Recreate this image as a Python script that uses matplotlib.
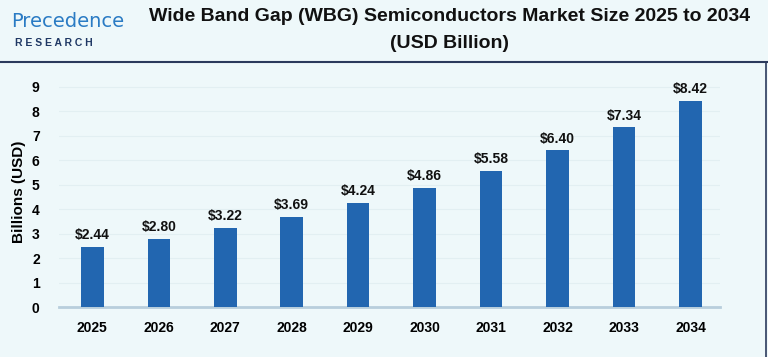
import numpy as np
import matplotlib.pyplot as plt
from matplotlib.lines import Line2D

plt.rcParams['font.family'] = ['Liberation Sans', 'DejaVu Sans']

# data
years = ['2025', '2026', '2027', '2028', '2029', '2030', '2031', '2032', '2033', '2034']
values = [2.44, 2.80, 3.22, 3.69, 4.24, 4.86, 5.58, 6.40, 7.34, 8.42]
yticks = [0, 1, 2, 3, 4, 5, 6, 7, 8, 9]

bg = '#EEF8FA'
bar_color = '#2266B0'

fig = plt.figure(figsize=(7.68, 3.57), dpi=100, facecolor=bg)
ax = fig.add_axes([0.077, 0.140, 0.861, 0.644], facecolor=bg)

x = np.arange(len(years))
ax.bar(x, values, width=0.34, color=bar_color, zorder=3)
for xi, v in zip(x, values):
    ax.text(xi, v + 0.2, f'${v:.2f}', ha='center', va='bottom',
            fontsize=10, fontweight='bold', color='#111111')

ax.set_xlim(-0.5, 9.45)
ax.set_ylim(0, 9.4)
ax.set_xticks(x)
ax.set_xticklabels(years, fontsize=10, fontweight='bold')
ax.set_yticks(yticks)
ax.set_yticklabels([str(t) for t in yticks], fontsize=10, fontweight='bold')
ax.tick_params(length=0, pad=14, axis='y')
ax.tick_params(length=0, pad=10, axis='x')
ax.grid(axis='y', color='#E2EFF2', linewidth=0.8, zorder=0)
for s in ['top', 'right', 'left']:
    ax.spines[s].set_visible(False)
ax.spines['bottom'].set_color('#B8CEDC')
ax.spines['bottom'].set_linewidth(2)
ax.set_ylabel('Billions (USD)', fontsize=11, fontweight='bold', labelpad=4)

# header
fig.text(0.585, 0.955, 'Wide Band Gap (WBG) Semiconductors Market Size 2025 to 2034',
         ha='center', va='center', fontsize=14, fontweight='bold', color='#111111')
fig.text(0.585, 0.878, '(USD Billion)', ha='center', va='center',
         fontsize=14, fontweight='bold', color='#111111')
fig.text(0.014, 0.94, 'Precedence', ha='left', va='center', fontsize=14,
         color='#2A7BC4', family=['DejaVu Sans'])
fig.text(0.02, 0.88, 'R E S E A R C H', ha='left', va='center', fontsize=7.5,
         fontweight='bold', color='#1F3864')

fig.add_artist(Line2D([0, 1], [1 - 62 / 357, 1 - 62 / 357], color='#2B3A5C', linewidth=1.5,
                      transform=fig.transFigure))
fig.add_artist(Line2D([0.998, 0.998], [0, 1 - 62 / 357], color='#2B3A5C', linewidth=1.2,
                      transform=fig.transFigure))

plt.savefig('out.png', dpi=100, facecolor=bg)
